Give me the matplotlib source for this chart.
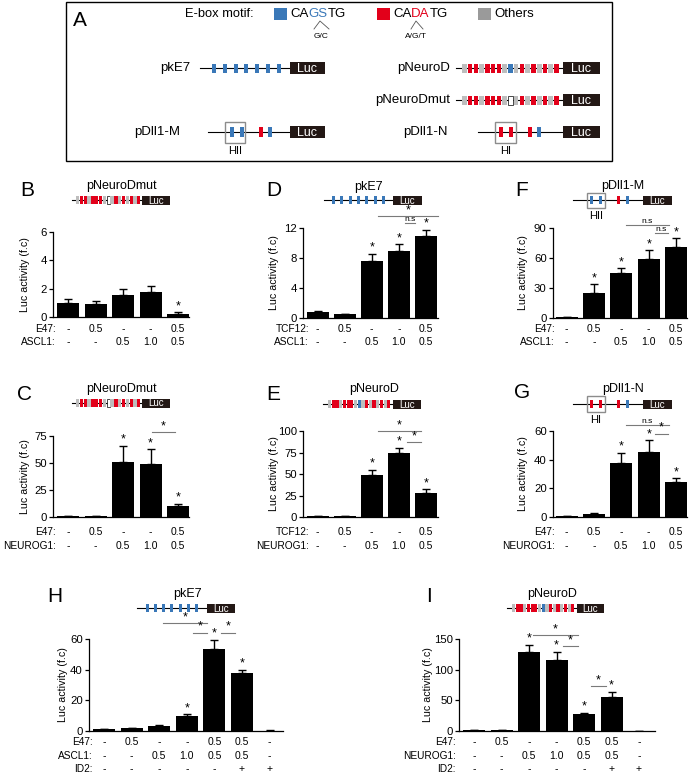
import matplotlib.pyplot as plt
from matplotlib.patches import Rectangle
from matplotlib.transforms import blended_transform_factory

plt.rcParams['font.family'] = ['Liberation Sans', 'DejaVu Sans']

W, H = 690, 773
BLUE = '#3a78b8'
RED = '#e2001a'
LGRAY = '#bdbdbd'
OTHERS = '#9a9a9a'
LUC = '#231815'
COLS = {'b': BLUE, 'r': RED, 'g': LGRAY, 'w': 'white'}

# ---- data ----
NEUROD_SEQ = "grrgrrrgbgrgrgrgr"
NEUROD_MUT_SEQ = "grrgrrrgwgrgrgrgr"
KE7_SEQ = "b-b-b-b-b-b-b"
DLL1M_SEQ = "b-b---r-b"
DLL1N_SEQ = "r-r---r-b"

e47 = ['-', '0.5', '-', '-', '0.5']
bhlh = ['-', '-', '0.5', '1.0', '0.5']
e47_7 = ['-', '0.5', '-', '-', '0.5', '0.5', '-']
bhlh_7 = ['-', '-', '0.5', '1.0', '0.5', '0.5', '-']
id2_7 = ['-', '-', '-', '-', '-', '+', '+']

b_vals = [0.98, 0.91, 1.52, 1.8, 0.21]
b_err = [0.28, 0.19, 0.46, 0.42, 0.14]
b_star = [0, 0, 0, 0, 1]

c_vals = [1.0, 0.6, 51, 49, 10]
c_err = [0.2, 0.1, 15, 14, 2.5]
c_star = [0, 0, 1, 1, 1]

d_vals = [0.85, 0.55, 7.6, 9.0, 10.9]
d_err = [0.05, 0.04, 1.0, 0.87, 0.85]
d_star = [0, 0, 1, 1, 1]

e_vals = [0.8, 1.0, 49, 75, 28]
e_err = [0.1, 0.2, 6, 5.5, 4]
e_star = [0, 0, 1, 1, 1]

f_vals = [1.0, 25, 45, 59, 71]
f_err = [0.1, 9, 5, 9, 9]
f_star = [0, 1, 1, 1, 1]

g_vals = [0.8, 2.2, 38, 45.5, 24.6]
g_err = [0.1, 0.7, 7, 8, 2.3]
g_star = [0, 0, 1, 1, 1]

h_vals = [1.0, 1.8, 3.3, 9.8, 53.5, 37.7, 0.3]
h_err = [0.1, 0.2, 0.3, 1.3, 6, 2.2, 0.05]
h_star = [0, 0, 0, 1, 1, 1, 0]

i_vals = [1.0, 1.2, 128, 115, 27, 56, 0.5]
i_err = [0.1, 0.2, 13, 14, 3, 8, 0.1]
i_star = [0, 0, 1, 1, 1, 1, 0]

fig = plt.figure(figsize=(6.9, 7.73), dpi=100)
canvas = fig.add_axes([0, 0, 1, 1])
canvas.set_xlim(0, W)
canvas.set_ylim(H, 0)
canvas.axis('off')


def construct(x_line, x_el0, x_el1, seq, x_luc0, x_luc1, y, ew, eh, lh, fs):
    canvas.plot([x_line, x_luc0], [y, y], color='black', lw=0.8, zorder=1)
    p = (x_el1 - x_el0) / len(seq)
    for k, ch in enumerate(seq):
        if ch == '-':
            continue
        canvas.add_patch(Rectangle((x_el0 + k * p, y - eh / 2), ew, eh,
                                   facecolor=COLS[ch],
                                   edgecolor='black' if ch == 'w' else 'none',
                                   lw=0.5, zorder=2))
    canvas.add_patch(Rectangle((x_luc0, y - lh / 2), x_luc1 - x_luc0, lh,
                               facecolor=LUC, zorder=2))
    canvas.text((x_luc0 + x_luc1) / 2, y + 0.5, 'Luc', color='white', fontsize=fs,
                ha='center', va='center', zorder=3)


def hbox(x0, x1, y0, y1, label, ly):
    canvas.add_patch(Rectangle((x0, y0), x1 - x0, y1 - y0, facecolor='none',
                               edgecolor='#8c8c8c', lw=1, zorder=3))
    canvas.text((x0 + x1) / 2, ly, label, fontsize=8, ha='center', va='center')


def color_text(x, y, parts, fs):
    r = fig.canvas.get_renderer()
    for s, c in parts:
        t = canvas.text(x, y, s, color=c, fontsize=fs, ha='left', va='center')
        x += t.get_window_extent(renderer=r).width


# ---- panel A ----
canvas.add_patch(Rectangle((66, 2), 546, 159, facecolor='none', edgecolor='black', lw=1))
canvas.text(80, 20, 'A', fontsize=15, ha='center', va='center')
canvas.text(185, 14, 'E-box motif:', fontsize=9.3, ha='left', va='center')
canvas.add_patch(Rectangle((274, 8), 13, 12, facecolor=BLUE))
color_text(290, 14, [('CA', 'black'), ('GS', BLUE), ('TG', 'black')], 9.5)
canvas.plot([314, 320, 329], [29, 21, 29], color='#555555', lw=0.6)
canvas.text(321, 37, 'G/C', fontsize=6, ha='center', va='center')
canvas.add_patch(Rectangle((377, 8), 13, 12, facecolor=RED))
color_text(393, 14, [('CA', 'black'), ('DA', RED), ('TG', 'black')], 9.5)
canvas.plot([411, 416, 423], [29, 21, 29], color='#555555', lw=0.6)
canvas.text(416, 37, 'A/G/T', fontsize=6, ha='center', va='center')
canvas.add_patch(Rectangle((478, 8), 13, 12, facecolor=OTHERS))
canvas.text(494, 14, 'Others', fontsize=9.5, ha='left', va='center')

canvas.text(190, 68, 'pkE7', fontsize=9.5, ha='right', va='center')
construct(200, 212, 282.4, KE7_SEQ, 290, 325, 68, 4, 9, 12, 9)
canvas.text(450, 68, 'pNeuroD', fontsize=9.5, ha='right', va='center')
construct(456, 462, 560, NEUROD_SEQ, 563, 600, 68, 4.6, 9, 12, 9)
canvas.text(450, 100, 'pNeuroDmut', fontsize=9.5, ha='right', va='center')
construct(456, 462, 560, NEUROD_MUT_SEQ, 563, 600, 100, 4.6, 9, 12, 9)
canvas.text(180, 132, 'pDll1-M', fontsize=9.5, ha='right', va='center')
construct(208, 230, 272.75, DLL1M_SEQ, 290, 325, 132, 4, 10, 12, 9)
hbox(225, 245, 122, 143, 'HII', 151)
canvas.text(448, 132, 'pDll1-N', fontsize=9.5, ha='right', va='center')
construct(478, 499, 541.75, DLL1N_SEQ, 563, 600, 132, 4, 10, 12, 9)
hbox(495, 516, 122, 143, 'HI', 151)


# ---- bar panels ----
def bar_panel(left, c0, pitch, right, top, bottom, ymax, yticks, vals, errs, stars,
              rows, row_y, name_x, ylab_x, brackets):
    n = len(vals)
    ax = fig.add_axes([left / W, 1 - bottom / H, (right - left) / W, (bottom - top) / H])
    ax.set_facecolor('none')
    ax.set_xlim((left - c0) / pitch, (right - c0) / pitch)
    ax.set_ylim(0, ymax)
    x = list(range(n))
    ax.bar(x, vals, width=22 / pitch, color='black', zorder=2)
    ax.errorbar(x, vals, yerr=[[0] * n, errs], fmt='none', ecolor='black',
                elinewidth=1, capsize=3.2, capthick=1, zorder=1)
    for i in x:
        if stars[i]:
            ax.annotate('*', (i, vals[i] + errs[i]), xytext=(0, 0), textcoords='offset points',
                        ha='center', va='bottom', fontsize=9, annotation_clip=False)
    for x1, x2, y, lab in brackets:
        ax.plot([x1, x2], [y, y], color='#7a7a7a', lw=0.8, clip_on=False)
        ax.text((x1 + x2) / 2, y, lab, ha='center', va='bottom',
                fontsize=9 if lab == '*' else 6)
    for s in ('top', 'right'):
        ax.spines[s].set_visible(False)
    for s in ('left', 'bottom'):
        ax.spines[s].set_linewidth(0.9)
    ax.set_xticks([])
    ax.set_yticks(yticks)
    ax.tick_params(axis='y', length=3, width=0.9, labelsize=8.2, pad=1.5)
    tr = blended_transform_factory(ax.transData, canvas.transData)
    for (name, labs), y in zip(rows, row_y):
        canvas.text(name_x, y, name, fontsize=7.3, ha='right', va='center')
        for i, t in enumerate(labs):
            ax.text(i, y, t, transform=tr, fontsize=7.5, ha='center', va='center')
    canvas.text(ylab_x, (top + bottom) / 2, 'Luc activity (f.c)', fontsize=7.7,
                rotation=90, ha='center', va='center')
    return ax


ROW1 = [329, 342]
ROW2 = [532, 546]
ROW3 = [742, 756, 769]

# B
canvas.text(27, 191, 'B', fontsize=15, ha='center', va='center')
canvas.text(121, 186, 'pNeuroDmut', fontsize=9, ha='center', va='center')
construct(72, 76, 141, NEUROD_MUT_SEQ, 142, 170, 200, 3.3, 8, 9, 7)
bar_panel(53, 68, 27.5, 189, 232, 317, 6, [0, 2, 4, 6], b_vals, b_err, b_star,
          [('E47:', e47), ('ASCL1:', bhlh)], ROW1, 56, 25, [])

# C
canvas.text(25, 395, 'C', fontsize=15, ha='center', va='center')
canvas.text(121, 389, 'pNeuroDmut', fontsize=9, ha='center', va='center')
construct(72, 76, 141, NEUROD_MUT_SEQ, 142, 170, 403, 3.3, 8, 9, 7)
bar_panel(53, 68, 27.5, 189, 436, 517, 75, [0, 25, 50, 75], c_vals, c_err, c_star,
          [('E47:', e47), ('NEUROG1:', bhlh)], ROW2, 56, 25,
          [(3.05, 3.9, 78.5, '*')])

# D
canvas.text(274, 190, 'D', fontsize=15, ha='center', va='center')
canvas.text(368, 187, 'pkE7', fontsize=9, ha='center', va='center')
construct(324, 332, 386.2, KE7_SEQ, 393, 422, 200, 3, 8, 9, 7)
bar_panel(303, 317.5, 27.1, 438, 228, 318, 12, [0, 4, 8, 12], d_vals, d_err, d_star,
          [('TCF12:', e47), ('ASCL1:', bhlh)], ROW1, 309, 274,
          [(2.23, 4.44, 13.6, '*'), (3.23, 3.6, 12.7, 'n.s')])

# E
canvas.text(273, 395, 'E', fontsize=15, ha='center', va='center')
canvas.text(374, 389, 'pNeuroD', fontsize=9, ha='center', va='center')
construct(323, 328, 391, NEUROD_SEQ, 393, 421, 404, 3.2, 8, 9, 7)
bar_panel(303, 317.5, 27.1, 438, 431, 517, 100, [0, 25, 50, 75, 100], e_vals, e_err, e_star,
          [('TCF12:', e47), ('NEUROG1:', bhlh)], ROW2, 309, 274,
          [(2.23, 3.82, 100, '*'), (3.3, 3.82, 87, '*')])

# F
canvas.text(522, 190, 'F', fontsize=15, ha='center', va='center')
canvas.text(623, 186, 'pDll1-M', fontsize=9, ha='center', va='center')
construct(573, 589.5, 630, DLL1M_SEQ, 643, 672, 200, 3, 8, 9, 7)
hbox(587, 605, 193, 208, 'HII', 216)
bar_panel(553, 566.5, 27.4, 687, 228, 318, 90, [0, 30, 60, 90], f_vals, f_err, f_star,
          [('E47:', e47), ('ASCL1:', bhlh)], ROW1, 555, 523,
          [(2.17, 3.74, 93, 'n.s'), (3.23, 3.7, 85, 'n.s')])

# G
canvas.text(522, 393, 'G', fontsize=15, ha='center', va='center')
canvas.text(623, 389, 'pDll1-N', fontsize=9, ha='center', va='center')
construct(573, 589.5, 630, DLL1N_SEQ, 643, 672, 404, 3, 8, 9, 7)
hbox(587, 605, 396, 412, 'HI', 420)
bar_panel(553, 566.5, 27.4, 687, 431, 517, 60, [0, 20, 40, 60], g_vals, g_err, g_star,
          [('E47:', e47), ('NEUROG1:', bhlh)], ROW2, 555, 523,
          [(2.17, 3.74, 64, 'n.s'), (3.23, 3.7, 58, '*')])

# H
canvas.text(55, 597, 'H', fontsize=15, ha='center', va='center')
canvas.text(187, 594, 'pkE7', fontsize=9, ha='center', va='center')
construct(137, 146, 199, KE7_SEQ, 207, 235, 608, 3, 8, 9, 7)
bar_panel(89, 104, 27.6, 283, 639, 731, 60, [0, 20, 40, 60], h_vals, h_err, h_star,
          [('E47:', e47_7), ('ASCL1:', bhlh_7), ('ID2:', id2_7)], ROW3, 93, 63,
          [(2.14, 3.73, 70.4, '*'), (3.22, 3.73, 64, '*'), (4.24, 4.75, 64, '*')])

# I
canvas.text(429, 597, 'I', fontsize=15, ha='center', va='center')
canvas.text(552, 594, 'pNeuroD', fontsize=9, ha='center', va='center')
construct(507, 512, 575, NEUROD_SEQ, 577, 604, 608, 3.2, 8, 9, 7)
bar_panel(459, 474, 27.5, 655, 639, 731, 150, [0, 50, 100, 150], i_vals, i_err, i_star,
          [('E47:', e47_7), ('NEUROG1:', bhlh_7), ('ID2:', id2_7)], ROW3, 456, 428,
          [(2.15, 3.78, 156.5, '*'), (3.24, 3.78, 138.6, '*'), (4.25, 4.8, 73.4, '*')])

fig.savefig('out.png', dpi=100)
